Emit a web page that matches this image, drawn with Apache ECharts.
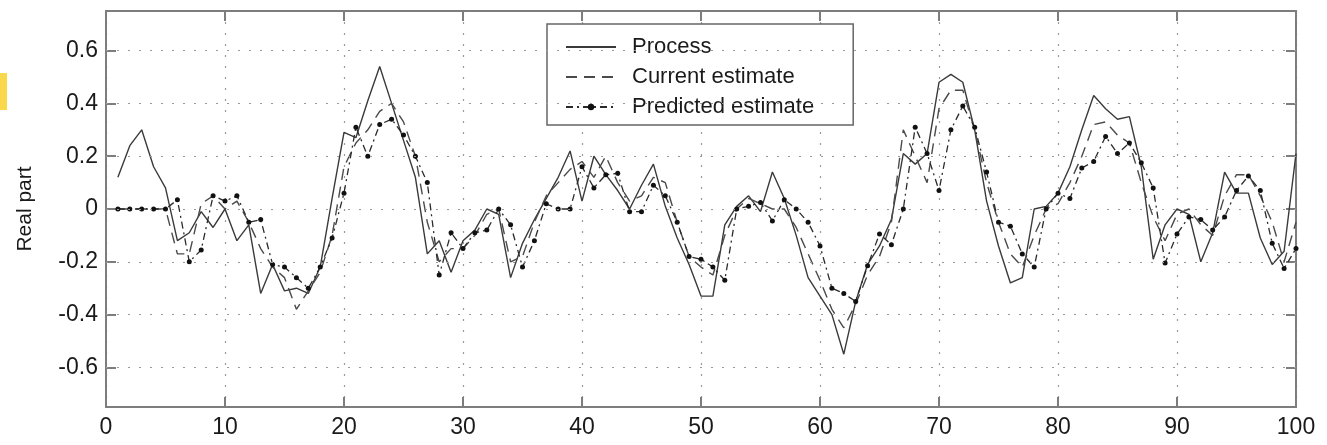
<!DOCTYPE html>
<html>
<head>
<meta charset="utf-8">
<script src="https://cdn.jsdelivr.net/npm/echarts@6/dist/echarts.min.js"></script>
<style>
html,body{margin:0;padding:0;background:#fff;}
#chart{width:1327px;height:445px;}
</style>
</head>
<body>
<div id="chart"></div>
<script>
// time steps 1..100
const steps = [1,2,3,4,5,6,7,8,9,10,11,12,13,14,15,16,17,18,19,20,21,22,23,24,25,26,27,28,29,30,31,32,33,34,35,36,37,38,39,40,41,42,43,44,45,46,47,48,49,50,51,52,53,54,55,56,57,58,59,60,61,62,63,64,65,66,67,68,69,70,71,72,73,74,75,76,77,78,79,80,81,82,83,84,85,86,87,88,89,90,91,92,93,94,95,96,97,98,99,100];

const processVals = [0.12,0.24,0.30,0.16,0.08,-0.12,-0.09,-0.01,-0.07,0.00,
  -0.12,-0.06,-0.32,-0.21,-0.31,-0.30,-0.32,-0.22,0.04,0.29,
  0.27,0.41,0.54,0.40,0.26,0.12,-0.17,-0.12,-0.24,-0.12,
  -0.08,0.00,-0.02,-0.26,-0.13,-0.04,0.04,0.12,0.22,0.03,
  0.20,0.13,0.07,0.00,0.09,0.17,0.01,-0.11,-0.21,-0.33,
  -0.33,-0.06,0.01,0.05,-0.01,0.14,0.04,-0.10,-0.26,-0.33,
  -0.40,-0.55,-0.35,-0.21,-0.14,-0.04,0.21,0.17,0.21,0.48,
  0.51,0.48,0.30,0.03,-0.14,-0.28,-0.26,0.00,0.01,0.06,
  0.16,0.30,0.43,0.38,0.34,0.35,0.16,-0.19,-0.06,0.00,
  -0.02,-0.20,-0.09,0.14,0.06,0.06,-0.11,-0.21,-0.16,0.21];

const currentVals = [0,0,0,0,0,-0.17,-0.17,0.02,0.05,0.00,
  0.03,-0.05,-0.15,-0.22,-0.26,-0.38,-0.31,-0.24,-0.10,0.16,
  0.25,0.30,0.37,0.40,0.33,0.20,-0.05,-0.20,-0.15,-0.15,
  -0.10,-0.02,0.00,-0.20,-0.18,-0.05,0.05,0.10,0.15,0.18,
  0.12,0.20,0.10,0.03,0.05,0.12,0.10,-0.05,-0.18,-0.22,
  -0.25,-0.10,0.00,0.04,0.02,0.00,0.00,-0.07,-0.17,-0.27,
  -0.38,-0.45,-0.36,-0.25,-0.18,-0.05,0.30,0.20,0.10,0.38,
  0.45,0.45,0.30,0.10,-0.05,-0.17,-0.22,-0.10,0.00,0.02,
  0.10,0.20,0.32,0.33,0.28,0.25,0.10,-0.03,-0.12,-0.02,
  0.00,-0.06,-0.10,0.05,0.13,0.13,0.05,-0.05,-0.20,-0.05];

const predictedVals = [0,0,0,0,0,0.035,-0.20,-0.155,0.05,0.03,
  0.05,-0.05,-0.04,-0.21,-0.22,-0.26,-0.30,-0.22,-0.11,0.06,
  0.31,0.20,0.32,0.34,0.28,0.20,0.10,-0.25,-0.09,-0.15,
  -0.09,-0.08,0.00,-0.06,-0.22,-0.12,0.02,0.00,0.00,0.16,
  0.08,0.13,0.135,-0.01,-0.01,0.09,0.05,-0.05,-0.18,-0.19,
  -0.22,-0.27,0.00,0.01,0.025,-0.045,0.035,0.00,-0.05,-0.14,
  -0.30,-0.32,-0.35,-0.215,-0.095,-0.135,0.00,0.31,0.21,0.07,
  0.30,0.39,0.31,0.14,-0.05,-0.065,-0.17,-0.22,0.00,0.06,
  0.04,0.155,0.18,0.275,0.21,0.25,0.175,0.08,-0.205,-0.095,
  -0.03,-0.04,-0.08,-0.03,0.07,0.125,0.07,-0.13,-0.225,-0.15];

const yTicks = [-0.6,-0.4,-0.2,0,0.2,0.4,0.6];
const seriesNames = ['Process','Current estimate','Predicted estimate'];
const yTitle = 'Real part';

function pairs(vals){ return steps.map((t,i)=>[t, vals[i]]); }

const FONT = '"Liberation Sans", Arial, Helvetica, sans-serif';
const frameColor = '#7d7d7d';
const gridColor = '#9a9a9a';

const chart = echarts.init(document.getElementById('chart'), null, {renderer:'canvas'});

const baseX = { type:'value', min:0, max:100, interval:10 };
const baseY = { type:'value', min:-0.75, max:0.75 };

chart.setOption({
  animation:false,
  backgroundColor:'#ffffff',
  textStyle:{fontFamily:FONT},
  grid:{left:106, right:31, top:11, bottom:38, containLabel:false},
  graphic:[{type:'rect', left:0, top:73, shape:{width:7, height:37}, style:{fill:'#f9d84c'}}],
  legend:{
    show:true,
    orient:'vertical',
    left:547, top:24,
    itemWidth:50, itemHeight:8, itemGap:8,
    padding:[12,39,7,18],
    borderColor:'#666', borderWidth:1.5,
    backgroundColor:'#fff',
    textStyle:{fontSize:22, color:'#1a1a1a', fontFamily:FONT, lineHeight:22, padding:[0,0,0,11]},
    data:[
      {name:seriesNames[0], itemStyle:{opacity:0}},
      {name:seriesNames[1], itemStyle:{opacity:0}},
      {name:seriesNames[2]}
    ]
  },
  xAxis:[
    Object.assign({}, baseX, {
      position:'bottom',
      axisLine:{show:true, onZero:false, lineStyle:{color:frameColor, width:2}},
      axisTick:{show:true, inside:true, length:10, lineStyle:{color:frameColor, width:2}},
      axisLabel:{show:true, fontSize:23, color:'#1a1a1a', margin:9, fontFamily:FONT},
      splitLine:{show:true, lineStyle:{color:gridColor, width:1.2, type:[2,9]}}
    }),
    Object.assign({}, baseX, {
      position:'top',
      axisLine:{show:true, onZero:false, lineStyle:{color:frameColor, width:2}},
      axisTick:{show:true, inside:true, length:10, lineStyle:{color:frameColor, width:2}},
      axisLabel:{show:false},
      splitLine:{show:false}
    })
  ],
  yAxis:[
    Object.assign({}, baseY, {
      position:'left',
      name:yTitle, nameLocation:'middle', nameGap:70,
      nameTextStyle:{fontSize:21, color:'#1a1a1a', fontFamily:FONT},
      axisLine:{show:true, onZero:false, lineStyle:{color:frameColor, width:2}},
      axisTick:{show:true, inside:true, length:10, customValues:yTicks, lineStyle:{color:frameColor, width:2}},
      axisLabel:{show:true, fontSize:23, color:'#1a1a1a', margin:8, fontFamily:FONT,
        customValues:yTicks,
        formatter:(v)=> (Math.abs(v)<1e-9 ? '0' : v.toFixed(1))},
      splitLine:{show:false}
    }),
    Object.assign({}, baseY, {
      position:'right',
      axisLine:{show:true, onZero:false, lineStyle:{color:frameColor, width:2}},
      axisTick:{show:true, inside:true, length:10, customValues:yTicks, lineStyle:{color:frameColor, width:2}},
      axisLabel:{show:false, customValues:yTicks},
      splitLine:{show:false}
    })
  ],
  series:[
    {
      name:'gridlines', type:'line', data:[], xAxisIndex:0, yAxisIndex:0, z:1,
      silent:true,
      markLine:{
        silent:true, symbol:'none', label:{show:false},
        lineStyle:{color:gridColor, width:1.2, type:[2,9]},
        data: yTicks.map(v=>({yAxis:v}))
      }
    },
    {
      name:seriesNames[0], type:'line', data:pairs(processVals),
      xAxisIndex:0, yAxisIndex:0, z:3,
      symbol:'none', showSymbol:false,
      lineStyle:{color:'#3a3a3a', width:1.4, type:'solid'},
      itemStyle:{color:'#3a3a3a'}
    },
    {
      name:seriesNames[1], type:'line', data:pairs(currentVals),
      xAxisIndex:0, yAxisIndex:0, z:3,
      symbol:'none', showSymbol:false,
      lineStyle:{color:'#4a4a4a', width:1.4, type:[11,7]},
      itemStyle:{color:'#4a4a4a'}
    },
    {
      name:seriesNames[2], type:'line', data:pairs(predictedVals),
      xAxisIndex:0, yAxisIndex:0, z:3,
      symbol:'circle', symbolSize:5, showSymbol:true,
      lineStyle:{color:'#2a2a2a', width:1.3, type:[7,4,2,4]},
      itemStyle:{color:'#111111'}
    }
  ]
});
</script>
</body>
</html>
